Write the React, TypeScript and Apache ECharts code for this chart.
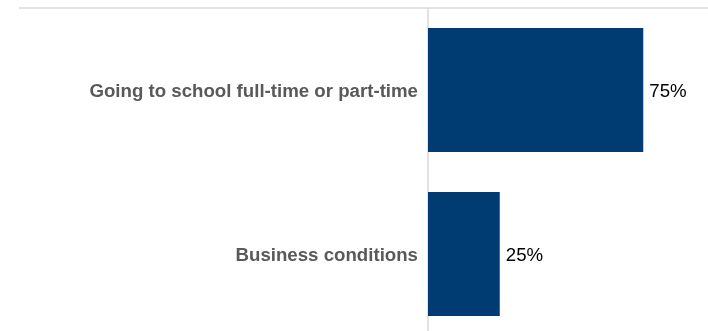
import React, { useEffect, useRef } from "react";
import * as echarts from "echarts";

const categories = ["Going to school full-time or part-time", "Business conditions"];
const values = [75, 25];

export default function App() {
  const ref = useRef<HTMLDivElement>(null);
  useEffect(() => {
    document.body.style.margin = "0";
    document.body.style.overflow = "hidden";
    const chart = echarts.init(ref.current!, null, { renderer: "svg" });
    chart.setOption({
      animation: false,
      grid: {
        left: 428,
        top: 8,
        width: 287,
        height: 328,
        containLabel: false,
        outerBoundsMode: "none",
      },
      xAxis: {
        type: "value",
        min: 0,
        max: 100,
        show: false,
      },
      yAxis: {
        type: "category",
        data: categories,
        inverse: true,
        axisLine: { show: true, lineStyle: { color: "#d9d9d9", width: 1.5 } },
        axisTick: { show: false },
        axisLabel: {
          margin: 10,
          color: "#595959",
          fontWeight: "bold",
          fontSize: 18.67,
          fontFamily: "'Liberation Sans', Arial, sans-serif",
        },
      },
      series: [
        {
          type: "bar",
          data: values,
          barCategoryGap: "24.4%",
          itemStyle: { color: "#003B71" },
          label: {
            show: true,
            position: "right",
            distance: 6,
            formatter: "{c}%",
            color: "#000000",
            fontSize: 18.67,
            fontFamily: "'Liberation Sans', Arial, sans-serif",
          },
        },
      ],
      graphic: [
        {
          type: "line",
          shape: { x1: 19, y1: 8, x2: 708, y2: 8 },
          style: { stroke: "#d9d9d9", lineWidth: 1.5 },
        },
      ],
    });
    return () => chart.dispose();
  }, []);
  return (
    <div
      ref={ref}
      style={{ position: "fixed", left: 0, top: 0, width: 708, height: 331 }}
    />
  );
}
